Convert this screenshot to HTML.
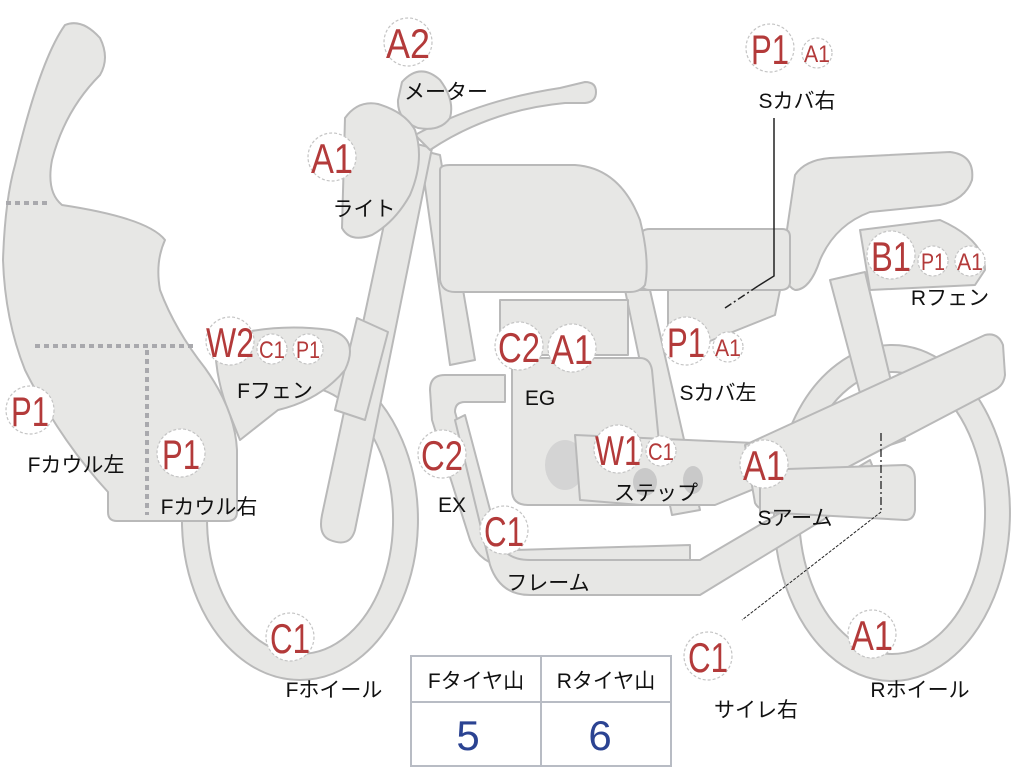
<!DOCTYPE html>
<html><head><meta charset="utf-8"><style>
html,body{margin:0;padding:0;background:#fff;width:1024px;height:768px;overflow:hidden}
svg{display:block}
.s{fill:#e7e7e5;stroke:#b9b9b9;stroke-width:2;stroke-linejoin:round}
.b{fill:#fff;stroke:#c4c4c4;stroke-width:1.2;stroke-dasharray:3 2}
.bt{fill:#b33a3a;font-family:"Liberation Sans",sans-serif;text-anchor:middle}
.lb{fill:#111;font-family:"Liberation Sans","Noto Sans CJK JP",sans-serif;font-size:21px;text-anchor:middle}
</style></head><body>
<svg width="1024" height="768" viewBox="0 0 1024 768" xmlns="http://www.w3.org/2000/svg">
<path class="s" fill-rule="evenodd" d="M892,345 A118,168 0 1,1 891.9,345 Z M892,372 A93,141 0 1,0 892.1,372 Z"/>
<path class="s" d="M830,280 L865,272 L905,440 L875,450 Z"/>
<path class="s" d="M860,230 L940,220 Q985,240 985,270 L975,285 L870,290 Z"/>
<path class="s" fill-rule="evenodd" d="M300,360 A118,160 0 1,1 299.9,360 Z M300,386 A93,134 0 1,0 300.1,386 Z"/>
<path class="s" d="M795,175 Q805,160 830,158 L950,152 Q975,155 972,180 Q965,200 940,205 L870,212 Q835,225 820,260 Q810,290 795,290 Q782,285 784,250 Z"/>
<path class="s" d="M640,238 Q640,229 650,229 L782,229 Q790,229 790,237 L790,282 Q790,290 780,290 L650,290 Q640,290 640,280 Z"/>
<path class="s" d="M668,290 L780,290 L775,315 L700,345 L668,350 Z"/>
<path class="s" d="M625,290 L650,290 L700,510 L672,515 Z"/>
<path class="s" d="M420,150 L440,155 L475,360 L450,365 Z"/>
<path class="s" d="M440,170 Q440,165 450,165 L575,165 Q620,168 640,220 Q650,260 645,285 Q640,292 630,292 L455,292 Q442,292 440,280 Z"/>
<path class="s" d="M500,300 L628,300 L628,355 L500,355 Z"/>
<path class="s" d="M512,368 Q512,358 522,358 L640,358 Q650,358 652,370 L665,505 L528,505 Q512,505 512,490 Z"/>
<ellipse cx="565" cy="465" rx="20" ry="25" fill="#d4d4d4"/>
<path class="s" d="M575,435 L800,445 L800,470 L715,505 L640,505 L580,500 Z"/>
<ellipse cx="645" cy="482" rx="12" ry="14" fill="#c9c9c9"/>
<ellipse cx="693" cy="480" rx="10" ry="14" fill="#c9c9c9"/>
<path class="s" d="M430,390 Q430,375 445,375 L505,375 L505,402 L465,402 Q455,402 455,412 L490,535 Q495,550 515,550 L690,545 L690,560 Q690,568 680,568 L510,568 Q480,565 470,540 L432,420 Z"/>
<path class="s" d="M455,420 L490,565 Q500,595 530,595 L700,595 L880,485 L870,460 L700,560 L530,560 Q505,560 498,540 L465,415 Z"/>
<path class="s" d="M745,445 L985,335 Q998,332 1003,345 L1005,375 Q1004,385 995,390 L770,508 Q760,512 755,503 Z"/>
<path class="s" d="M760,470 L905,465 Q915,467 915,480 L915,510 Q914,520 905,520 L760,512 Z"/>
<path class="s" d="M402,140 L432,148 L355,530 Q350,548 330,540 Q318,535 322,515 Z"/>
<path class="s" d="M357,318 L388,332 L365,420 L335,410 Z"/>
<path class="s" d="M415,135 Q480,100 560,88 L585,82 Q596,82 596,92 Q596,102 585,103 L565,103 Q490,110 430,150 Z"/>
<path class="s" d="M402,82 Q420,62 440,80 Q455,100 450,118 Q440,132 418,128 Q397,120 398,100 Z"/>
<path class="s" d="M345,118 Q358,100 378,104 Q405,112 415,130 Q425,160 410,195 Q395,222 372,235 Q350,243 342,228 Z"/>
<path class="s" d="M215,340 Q270,322 330,330 Q360,338 345,370 Q320,400 278,410 L240,440 L230,415 Q215,380 215,340 Z"/>
<path class="s" d="M65,25 Q82,18 100,38 Q110,58 100,75 Q65,110 52,160 Q46,192 62,205 Q148,218 165,240 Q155,262 160,290 Q175,330 205,368 Q235,410 237,450 L237,512 Q237,521 227,521 L117,521 Q108,521 108,512 L108,492 Q60,440 25,370 Q5,320 3,260 Q5,200 15,165 Q40,60 65,25 Z"/>
<g stroke="#a9a9ad" stroke-width="4" stroke-dasharray="5 4" fill="none">
<path d="M6,203 L48,203"/><path d="M35,346 L195,346"/><path d="M147,350 L147,515"/>
</g>
<path d="M774,118 L774,276 L758,286" stroke="#222" stroke-width="1.5" fill="none"/>
<path d="M758,286 L725,308" stroke="#222" stroke-width="1.5" stroke-dasharray="8 3 2 3" fill="none"/>
<path d="M881,433 L881,512" stroke="#222" stroke-width="1.3" stroke-dasharray="8 3 2 3" fill="none"/>
<path d="M881,512 L742,620" stroke="#222" stroke-width="1" stroke-dasharray="3 1.5" fill="none"/>
<rect x="411" y="656" width="260" height="110" fill="#fff" stroke="#b8bcc4" stroke-width="2"/>
<line x1="411" y1="702" x2="671" y2="702" stroke="#b8bcc4" stroke-width="2"/>
<line x1="541" y1="656" x2="541" y2="766" stroke="#b8bcc4" stroke-width="2"/>
<text class="lb" x="476" y="688">Fタイヤ山</text>
<text class="lb" x="606" y="688">Rタイヤ山</text>
<text x="468" y="750" fill="#2b4392" font-family="Liberation Sans,sans-serif" font-size="42" text-anchor="middle">5</text>
<text x="600" y="750" fill="#2b4392" font-family="Liberation Sans,sans-serif" font-size="42" text-anchor="middle">6</text>
<g>
<circle class="b" cx="408" cy="42" r="24"/><text class="bt" x="408" y="58" font-size="42" textLength="44" lengthAdjust="spacingAndGlyphs">A2</text>
<circle class="b" cx="770" cy="48" r="24"/><text class="bt" x="770" y="64" font-size="42" textLength="38" lengthAdjust="spacingAndGlyphs">P1</text>
<circle class="b" cx="332" cy="157" r="24"/><text class="bt" x="332" y="173" font-size="42" textLength="42" lengthAdjust="spacingAndGlyphs">A1</text>
<circle class="b" cx="891" cy="255" r="24"/><text class="bt" x="891" y="271" font-size="42" textLength="40" lengthAdjust="spacingAndGlyphs">B1</text>
<circle class="b" cx="230" cy="341" r="24"/><text class="bt" x="230" y="357" font-size="42" textLength="48" lengthAdjust="spacingAndGlyphs">W2</text>
<circle class="b" cx="519" cy="346" r="24"/><text class="bt" x="519" y="362" font-size="42" textLength="42" lengthAdjust="spacingAndGlyphs">C2</text>
<circle class="b" cx="572" cy="348" r="24"/><text class="bt" x="572" y="364" font-size="42" textLength="42" lengthAdjust="spacingAndGlyphs">A1</text>
<circle class="b" cx="686" cy="341" r="24"/><text class="bt" x="686" y="357" font-size="42" textLength="38" lengthAdjust="spacingAndGlyphs">P1</text>
<circle class="b" cx="30" cy="410" r="24"/><text class="bt" x="30" y="426" font-size="42" textLength="38" lengthAdjust="spacingAndGlyphs">P1</text>
<circle class="b" cx="181" cy="453" r="24"/><text class="bt" x="181" y="469" font-size="42" textLength="38" lengthAdjust="spacingAndGlyphs">P1</text>
<circle class="b" cx="442" cy="454" r="24"/><text class="bt" x="442" y="470" font-size="42" textLength="42" lengthAdjust="spacingAndGlyphs">C2</text>
<circle class="b" cx="618" cy="449" r="24"/><text class="bt" x="618" y="465" font-size="42" textLength="46" lengthAdjust="spacingAndGlyphs">W1</text>
<circle class="b" cx="764" cy="464" r="24"/><text class="bt" x="764" y="480" font-size="42" textLength="42" lengthAdjust="spacingAndGlyphs">A1</text>
<circle class="b" cx="504" cy="530" r="24"/><text class="bt" x="504" y="546" font-size="42" textLength="40" lengthAdjust="spacingAndGlyphs">C1</text>
<circle class="b" cx="290" cy="637" r="24"/><text class="bt" x="290" y="653" font-size="42" textLength="40" lengthAdjust="spacingAndGlyphs">C1</text>
<circle class="b" cx="708" cy="656" r="24"/><text class="bt" x="708" y="672" font-size="42" textLength="40" lengthAdjust="spacingAndGlyphs">C1</text>
<circle class="b" cx="872" cy="634" r="24"/><text class="bt" x="872" y="650" font-size="42" textLength="42" lengthAdjust="spacingAndGlyphs">A1</text>
</g>
<g>
<circle class="b" cx="817" cy="53" r="15"/><text class="bt" x="817" y="62" font-size="24" textLength="26" lengthAdjust="spacingAndGlyphs">A1</text>
<circle class="b" cx="933" cy="261" r="15"/><text class="bt" x="933" y="270" font-size="24" textLength="24" lengthAdjust="spacingAndGlyphs">P1</text>
<circle class="b" cx="970" cy="261" r="15"/><text class="bt" x="970" y="270" font-size="24" textLength="26" lengthAdjust="spacingAndGlyphs">A1</text>
<circle class="b" cx="272" cy="349" r="15"/><text class="bt" x="272" y="358" font-size="24" textLength="26" lengthAdjust="spacingAndGlyphs">C1</text>
<circle class="b" cx="308" cy="349" r="15"/><text class="bt" x="308" y="358" font-size="24" textLength="24" lengthAdjust="spacingAndGlyphs">P1</text>
<circle class="b" cx="728" cy="347" r="15"/><text class="bt" x="728" y="356" font-size="24" textLength="26" lengthAdjust="spacingAndGlyphs">A1</text>
<circle class="b" cx="661" cy="451" r="15"/><text class="bt" x="661" y="460" font-size="24" textLength="26" lengthAdjust="spacingAndGlyphs">C1</text>
</g>
<text class="lb" x="446" y="99">メーター</text>
<text class="lb" x="797" y="108">Sカバ右</text>
<text class="lb" x="364" y="216">ライト</text>
<text class="lb" x="950" y="305">Rフェン</text>
<text class="lb" x="275" y="398">Fフェン</text>
<text class="lb" x="540" y="405">EG</text>
<text class="lb" x="718" y="400">Sカバ左</text>
<text class="lb" x="76" y="472">Fカウル左</text>
<text class="lb" x="209" y="514">Fカウル右</text>
<text class="lb" x="452" y="512">EX</text>
<text class="lb" x="656" y="500">ステップ</text>
<text class="lb" x="795" y="525">Sアーム</text>
<text class="lb" x="548" y="590">フレーム</text>
<text class="lb" x="334" y="697">Fホイール</text>
<text class="lb" x="756" y="717">サイレ右</text>
<text class="lb" x="920" y="697">Rホイール</text>
</svg>
</body></html>
